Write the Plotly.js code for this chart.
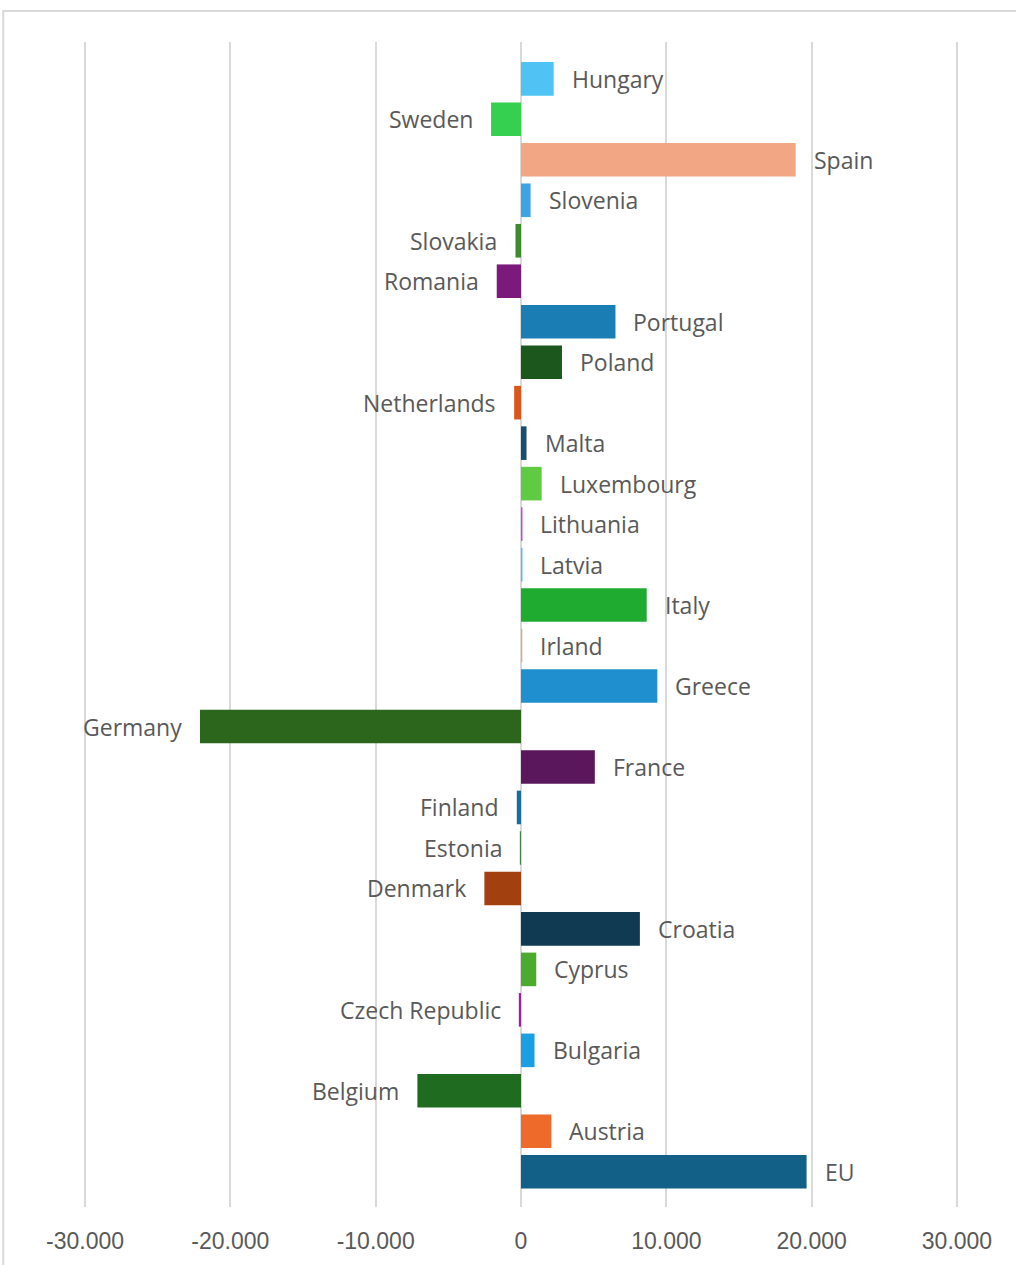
<!DOCTYPE html>
<html>
<head>
<meta charset="utf-8">
<script src="https://cdn.plot.ly/plotly-3.0.1.min.js"></script>
<style>
  html, body { margin: 0; padding: 0; background: #ffffff; }
  #chart { width: 1016px; height: 1265px; }
</style>
</head>
<body>
<div id="chart"></div>
<script>
const categories = ["Hungary","Sweden","Spain","Slovenia","Slovakia","Romania","Portugal","Poland","Netherlands","Malta","Luxembourg","Lithuania","Latvia","Italy","Irland","Greece","Germany","France","Finland","Estonia","Denmark","Croatia","Cyprus","Czech Republic","Bulgaria","Belgium","Austria","EU"];
const values = [2250,-2060,18900,660,-380,-1670,6500,2820,-470,380,1420,100,100,8650,90,9380,-22090,5080,-290,-80,-2520,8180,1050,-150,930,-7130,2090,19650];
const barColors = ["#4fc4f4","#35d050","#f2a683","#3aa5e0","#3b8a2c","#7c1a7c","#1a7db4","#1c581d","#d9561c","#1a4e70","#5fcb43","#cf3fd0","#3fc2f2","#1faa30","#f2a07e","#1f8fcf","#2c661c","#5b175c","#1a6c9e","#4a7e4a","#a2400f","#0f3a52","#4bab2f","#a21ea4","#1a9fe2","#1f6b1f","#ee6a2b","#125f88"];
const tickVals = [-30000,-20000,-10000,0,10000,20000,30000];
const tickText = ["-30.000","-20.000","-10.000","0","10.000","20.000","30.000"];

const trace = {
  type: "bar",
  orientation: "h",
  y: categories,
  x: values,
  marker: { color: barColors, line: { width: 0 } },
  hoverinfo: "x+y"
};

const annotations = categories.map((c, i) => ({
  x: values[i],
  y: c,
  xref: "x",
  yref: "y",
  text: c,
  showarrow: false,
  xanchor: values[i] >= 0 ? "left" : "right",
  xshift: values[i] >= 0 ? 16 : -16,
  font: { family: "Open Sans, Noto Sans, sans-serif", size: 23, color: "#595959" }
}));

const layout = {
  width: 1016,
  height: 1265,
  margin: { l: 83, r: 57, t: 42, b: 58 },
  paper_bgcolor: "#ffffff",
  plot_bgcolor: "#ffffff",
  showlegend: false,
  bargap: 0.17,
  xaxis: {
    range: [-30138, 30138],
    tickvals: tickVals,
    ticktext: tickText,
    showgrid: true,
    gridcolor: "#d9d9d9",
    gridwidth: 2,
    zeroline: false,
    showline: false,
    ticks: "outside",
    ticklen: 13,
    tickcolor: "rgba(0,0,0,0)",
    tickfont: { family: "Liberation Sans, Arial, sans-serif", size: 23, color: "#595959" },
    fixedrange: true
  },
  yaxis: {
    type: "category",
    range: [27.87, -0.91],
    showticklabels: false,
    showgrid: false,
    zeroline: false,
    showline: false,
    ticks: "",
    fixedrange: true
  },
  annotations: annotations,
  shapes: [{
    type: "rect",
    xref: "paper", yref: "paper",
    x0: -0.091, x1: 1.2,
    y0: -0.2, y1: 1.0266,
    line: { color: "#d9d9d9", width: 2 },
    fillcolor: "rgba(0,0,0,0)",
    layer: "below"
  }]
};

Plotly.newPlot("chart", [trace], layout, { displayModeBar: false, staticPlot: true });
</script>
</body>
</html>
